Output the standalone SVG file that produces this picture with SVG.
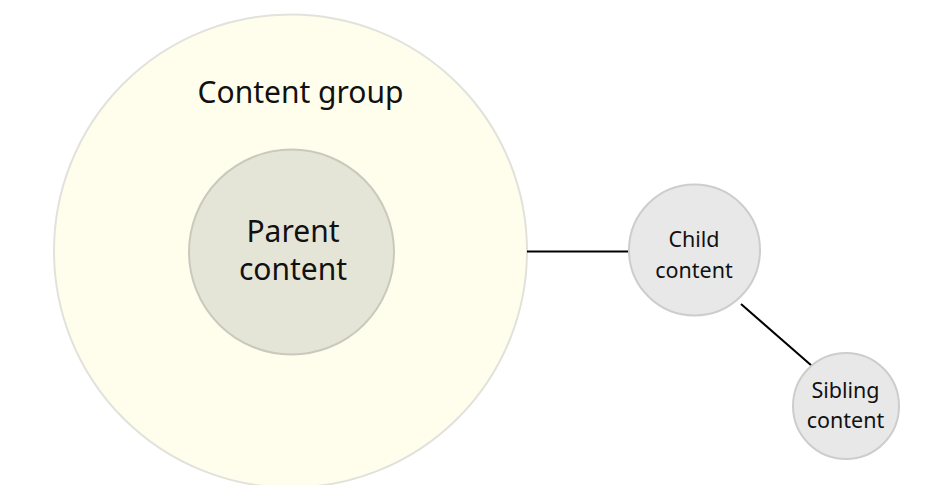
<svg xmlns="http://www.w3.org/2000/svg" width="935" height="485" viewBox="0 0 935 485">
<style>
text{font-family:"Noto Sans","Open Sans",sans-serif;fill:#111;text-anchor:middle}
.big{font-size:30px}
.small{font-size:21.5px}
.conn{stroke:#000;stroke-width:2;fill:none}
.node{fill:#e8e8e8;stroke:#cdcdcd;stroke-width:2}
</style>
<rect width="935" height="485" fill="#fff"/>
<g id="content-group">
<circle cx="290.5" cy="251" r="236.5" fill="#fffeec" stroke="#e2e2dc" stroke-width="2"/>
<text class="big" x="300.5" y="103">Content group</text>
</g>
<g id="parent-content">
<circle cx="291.5" cy="252" r="102.5" fill="#e5e5d7" stroke="#c9c9bd" stroke-width="2"/>
<text class="big" x="293" y="242">Parent</text>
<text class="big" x="293" y="280">content</text>
</g>
<g id="connectors">
<line class="conn" x1="527" y1="251.5" x2="629" y2="251.5"/>
<line class="conn" x1="741" y1="304" x2="812" y2="366"/>
</g>
<g id="child-content">
<circle class="node" cx="694.5" cy="250" r="65.5"/>
<text class="small" x="694" y="247">Child</text>
<text class="small" x="694" y="278">content</text>
</g>
<g id="sibling-content">
<circle class="node" cx="846" cy="406" r="53"/>
<text class="small" x="845.5" y="398">Sibling</text>
<text class="small" x="845.5" y="428">content</text>
</g>
</svg>
